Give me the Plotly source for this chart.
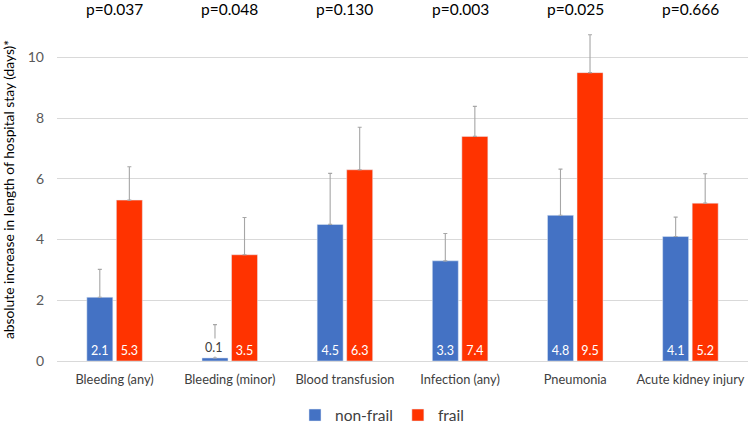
import plotly.graph_objects as go

categories = ["Bleeding (any)", "Bleeding (minor)", "Blood transfusion",
              "Infection (any)", "Pneumonia", "Acute kidney injury"]
nonfrail = [2.1, 0.1, 4.5, 3.3, 4.8, 4.1]
frail = [5.3, 3.5, 6.3, 7.4, 9.5, 5.2]
nonfrail_err = [0.92, 1.1, 1.68, 0.9, 1.52, 0.64]
frail_err = [1.1, 1.23, 1.4, 0.99, 1.25, 0.97]
pvalues = ["p=0.037", "p=0.048", "p=0.130", "p=0.003", "p=0.025", "p=0.666"]

BLUE = "#4472C4"
RED = "#FF3300"
FONT = "Lato"
SMALL = 1.0  # values below this get their label above the bar


def inside_text(vals):
    return [f"{v:.1f}" if v >= SMALL else "" for v in vals]


fig = go.Figure()
for name, vals, errs, col, off in [("non-frail", nonfrail, nonfrail_err, BLUE, 0),
                                   ("frail", frail, frail_err, RED, 1)]:
    fig.add_trace(go.Bar(
        name=name, x=categories, y=vals, marker_color=col,
        text=inside_text(vals), textposition="inside",
        insidetextanchor="start", textfont=dict(color="white", size=12.5, family=FONT),
        offsetgroup=str(off),
        error_y=dict(type="data", symmetric=False, array=errs,
                     arrayminus=[0] * len(vals), color="#A6A6A6", thickness=1.1, width=2),
    ))

# labels for tiny bars, above the bar with a white background (as in the reference)
for i, (cat, v) in enumerate(zip(categories, nonfrail)):
    if v < SMALL:
        fig.add_annotation(x=cat, y=v, xref="x", yref="y", text=f"{v:.1f}",
                           showarrow=False, yanchor="bottom", xshift=-16.5, yshift=1,
                           bgcolor="white", borderpad=1,
                           font=dict(size=12.5, color="#404040", family=FONT))

for cat, p in zip(categories, pvalues):
    fig.add_annotation(x=cat, y=1, xref="x", yref="paper", text=p, showarrow=False,
                       yanchor="middle", yshift=9,
                       font=dict(size=15.5, color="#000000", family=FONT))

fig.update_layout(
    width=749, height=427,
    margin=dict(l=57, r=1, t=18, b=66),
    paper_bgcolor="white", plot_bgcolor="white",
    barmode="group", bargap=0.487, bargroupgap=0.12,
    font=dict(family=FONT, color="#404040"),
    legend=dict(orientation="h", xref="container", x=0.51, xanchor="center",
                yref="container", y=0.027, yanchor="middle",
                font=dict(size=15.5, color="#404040", family=FONT),
                itemwidth=30, tracegroupgap=0),
    showlegend=True,
)
fig.update_xaxes(showgrid=False, showline=True, linecolor="#D9D9D9", linewidth=1,
                 automargin=False, ticks="", ticklabelstandoff=7,
                 tickfont=dict(size=12.8, color="#404040", family=FONT))
fig.update_yaxes(range=[0, 11.3], tickvals=[0, 2, 4, 6, 8, 10], showgrid=True,
                 gridcolor="#D9D9D9", gridwidth=1, zeroline=False, showline=False,
                 automargin=False, ticks="", ticklabelstandoff=12,
                 tickfont=dict(size=14, color="#595959", family=FONT),
                 title=dict(text="absolute increase in length of hospital stay (days)*",
                            font=dict(size=13.8, color="#000000", family=FONT),
                            standoff=13))

fig.write_html("out.html", config={"displayModeBar": False},
               post_script="document.body.style.margin='0';document.body.style.overflow='hidden';")
